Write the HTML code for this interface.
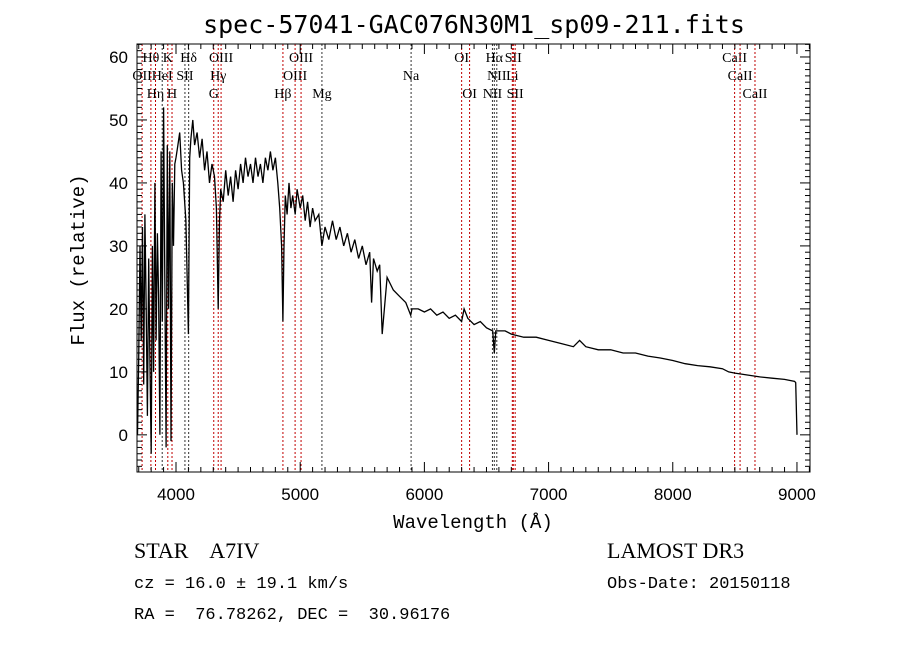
<!DOCTYPE html>
<html><head><meta charset="utf-8"><style>
body{margin:0;background:#fff;}
svg text{font-family:"Liberation Serif",serif;fill:#000;white-space:pre;}
</style></head><body>
<svg id="chart" width="900" height="649" xmlns="http://www.w3.org/2000/svg" xml:space="preserve">
<rect width="900" height="649" fill="#fff"/>
<text x="474" y="33" text-anchor="middle" font-size="25" style="font-family:'DejaVu Sans Mono','Liberation Mono',monospace">spec-57041-GAC076N30M1_sp09-211.fits</text>
<g id="lines"></g>
<g id="spec"></g>
<rect x="137" y="44" width="673" height="428" fill="none" stroke="#000" stroke-width="1"/>
<g id="axes"></g>
<text x="473" y="528" text-anchor="middle" font-size="19" style="font-family:'Liberation Mono',monospace">Wavelength (Å)</text>
<text transform="translate(84,260) rotate(-90)" text-anchor="middle" font-size="19" style="font-family:'Liberation Mono',monospace">Flux (relative)</text>
<text x="134" y="558" font-size="22">STAR    A7IV</text>
<text x="134" y="588" font-size="17" style="font-family:'Liberation Mono',monospace">cz = 16.0 ± 19.1 km/s</text>
<text x="134" y="619" font-size="17" style="font-family:'Liberation Mono',monospace">RA =  76.78262, DEC =  30.96176</text>
<text x="607" y="558" font-size="22">LAMOST DR3</text>
<text x="607" y="588" font-size="17" style="font-family:'Liberation Mono',monospace">Obs-Date: 20150118</text>
</svg>
<script>
const wavelengths=[3690,3700,3710,3720,3730,3740,3750,3760,3770,3780,3790,3800,3810,3820,3830,3840,3850,3860,3870,3880,3890,3900,3910,3920,3930,3940,3950,3960,3970,3980,3990,4000,4015,4030,4045,4060,4080,4100,4110,4120,4135,4150,4170,4190,4210,4230,4250,4270,4290,4310,4325,4340,4350,4360,4380,4400,4420,4440,4460,4480,4500,4520,4540,4560,4580,4600,4620,4640,4660,4680,4700,4720,4740,4760,4780,4800,4820,4835,4850,4861,4870,4880,4895,4910,4925,4940,4960,4975,5000,5020,5040,5060,5080,5100,5120,5150,5175,5200,5230,5260,5290,5320,5350,5380,5410,5440,5470,5500,5530,5560,5575,5590,5620,5640,5660,5700,5750,5800,5850,5890,5900,5950,6000,6050,6100,6150,6200,6250,6300,6320,6350,6400,6450,6500,6550,6563,6575,6600,6650,6700,6800,6900,7000,7100,7200,7250,7300,7400,7500,7600,7700,7800,7900,8000,8100,8200,8300,8400,8450,8500,8600,8700,8800,8900,8980,8990,9000];
const fluxes=[0,12,30,15,33,8,35,20,3,28,12,-3,30,10,40,15,32,22,0,45,18,52,25,-2,46,20,45,-1,40,30,43,44,46,48,42,40,34,16,44,47,50,46,48,44,47,42,45,40,43,41,36,20,34,39,37,42,38,41,37,42,39,43,40,44,41,43,40,44,41,43,40,44,42,45,42,44,40,36,30,18,30,38,35,40,36,38,35,39,36,38,34,37,33,36,34,35,30,33,31,34,31,33,30,32,29,31,28,30,27,29,21,28,26,27,16,25,23,22,21,19,20,20,19.5,20,19,19.5,18.5,19,18,20,18.5,17.5,18,17,16.5,13,16.5,16.5,16.5,16,15.5,15.5,15,14.5,14,15,14,13.5,13.5,13,13,12.5,12.2,11.8,11.3,11,10.8,10.5,10,9.8,9.5,9.2,9,8.8,8.5,8.3,0];
const markerNames=["OII","Hθ","Hη","HeI","K","H","SII","Hδ","G","Hγ","OIII","Hβ","OIII","OIII","Mg","Na","OI","OI","NII","Hα","NII","Li","SII","SII","CaII","CaII","CaII"];
const markerWaves=[3727,3798,3835,3889,3934,3968,4072,4102,4304,4340,4363,4861,4959,5007,5175,5893,6300,6364,6548,6563,6583,6708,6716,6731,8498,8542,8662];
const markerRows=[1,0,2,1,0,2,1,0,2,1,0,2,1,0,2,1,0,2,2,0,1,1,0,2,0,1,2];
const markerBlack=[0,0,0,1,0,0,1,1,0,0,0,0,0,0,1,1,0,0,1,1,1,0,0,0,0,0,0];
const xTicks=[4000,5000,6000,7000,8000,9000];
const yTicks=[0,10,20,30,40,50,60];
const X0=137,X1=810,Y0=472,Y1=44,LMIN=3686,LMAX=9105,FMIN=-5.9,FMAX=62.06;
const sx=l=>X0+(l-LMIN)/(LMAX-LMIN)*(X1-X0);
const sy=f=>Y0-(f-FMIN)/(FMAX-FMIN)*(Y0-Y1);
const NS="http://www.w3.org/2000/svg";
function mk(tag,attrs,parent){const e=document.createElementNS(NS,tag);for(const k in attrs)e.setAttribute(k,attrs[k]);parent.appendChild(e);return e;}
const gl=document.getElementById('lines');
markerWaves.forEach((w,i)=>{
  const x=sx(w);
  const ln=mk('line',{x1:x,x2:x,y1:Y1,y2:Y0,stroke:markerBlack[i]?'#333':'#c00000','stroke-width':1,'stroke-dasharray':'2,2'},gl);
  
  
  const t=mk('text',{x:x,y:62+markerRows[i]*18,'text-anchor':'middle','font-size':14},gl);
  t.textContent=markerNames[i];
  
  
});
const gs=document.getElementById('spec');
const pl=mk('polyline',{points:wavelengths.map((w,i)=>sx(w).toFixed(1)+','+sy(fluxes[i]).toFixed(1)).join(' '),fill:'none',stroke:'#000','stroke-width':1.3},gs);


const ga=document.getElementById('axes');
for(let l=3700;l<=9100;l+=100){const x=sx(l);const big=l%1000===0;
  mk('line',{x1:x,x2:x,y1:Y0,y2:Y0-(big?10:5),stroke:'#000'},ga);
  mk('line',{x1:x,x2:x,y1:Y1,y2:Y1+(big?10:5),stroke:'#000'},ga);}
for(let f=-5;f<=62;f+=1){const y=sy(f);const big=f%10===0;
  mk('line',{x1:X0,x2:X0+(big?10:5),y1:y,y2:y,stroke:'#000'},ga);
  mk('line',{x1:X1,x2:X1-(big?10:5),y1:y,y2:y,stroke:'#000'},ga);}
xTicks.forEach(v=>{const t=mk('text',{x:sx(v),y:500,'text-anchor':'middle','font-size':17,style:"font-family:'Liberation Sans',sans-serif"},ga);t.textContent=v;
  
  });
yTicks.forEach(v=>{const t=mk('text',{x:128,y:sy(v)+6,'text-anchor':'end','font-size':17,style:"font-family:'Liberation Sans',sans-serif"},ga);t.textContent=v;
  
  });
</script>
</body></html>
